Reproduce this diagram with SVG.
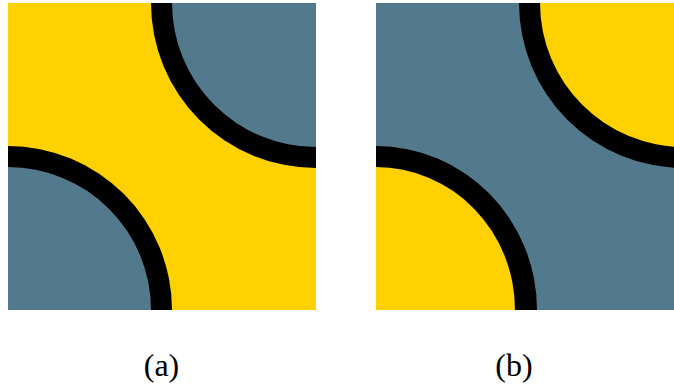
<svg xmlns="http://www.w3.org/2000/svg" width="674" height="386" viewBox="0 0 674 386">
  <style>
    .yel { fill: #ffd100; }
    .blu { fill: #53798d; }
    .ink { fill: #000000; }
    .cap { font-family: "Liberation Serif", "DejaVu Serif", serif; font-size: 32px; fill: #000; text-anchor: middle; }
  </style>
  <defs>
    <clipPath id="clipA"><rect x="8" y="3" width="308" height="307"/></clipPath>
    <clipPath id="clipB"><rect x="376" y="3" width="308" height="307"/></clipPath>
  </defs>

  <!-- panel (a): yellow field, blue quarter discs -->
  <g id="panel-a" clip-path="url(#clipA)">
    <rect class="yel" x="8" y="3" width="308" height="307"/>
    <circle class="ink" cx="316" cy="3" r="165"/>
    <circle class="blu" cx="316" cy="3" r="144"/>
    <circle class="ink" cx="8" cy="310" r="164"/>
    <circle class="blu" cx="8" cy="310" r="143"/>
  </g>

  <!-- panel (b): blue field, yellow quarter discs -->
  <g id="panel-b" clip-path="url(#clipB)">
    <rect class="blu" x="376" y="3" width="308" height="307"/>
    <circle class="ink" cx="684" cy="3" r="165"/>
    <circle class="yel" cx="684" cy="3" r="144"/>
    <ellipse class="ink" cx="376" cy="310" rx="161" ry="164"/>
    <ellipse class="yel" cx="376" cy="310" rx="139" ry="143"/>
  </g>

  <g id="captions">
    <text class="cap" x="161.5" y="376">(a)</text>
    <text class="cap" x="514" y="376">(b)</text>
  </g>
</svg>
